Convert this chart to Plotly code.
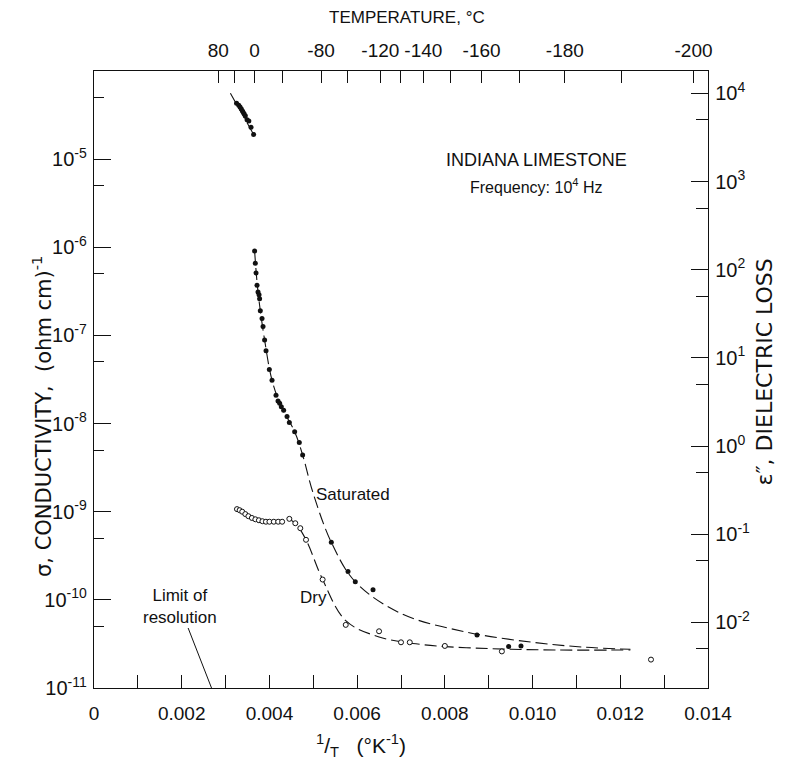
import plotly.graph_objects as go
import math

# ---------------- data ----------------
# Saturated sample, high-temperature cluster (filled dots)
sat_hot_x = [0.00325, 0.00330, 0.00333, 0.00336, 0.00339, 0.00342, 0.00345, 0.00349, 0.00353, 0.00358, 0.00364]
sat_hot_y = [4.3e-5, 4.1e-5, 3.9e-5, 3.7e-5, 3.5e-5, 3.3e-5, 3.1e-5, 2.8e-5, 2.7e-5, 2.3e-5, 1.9e-5]
sat_hot_line_x = [0.00311, 0.00364]
sat_hot_line_y = [5.6e-5, 1.9e-5]

# Saturated sample, frozen branch (filled dots)
sat_x = [0.003662, 0.003678, 0.003694, 0.003717, 0.003740, 0.003763, 0.003776, 0.003792,
         0.003831, 0.003854, 0.003890, 0.003922, 0.003998, 0.004059, 0.004150, 0.004196,
         0.004233, 0.004271, 0.004324, 0.004401, 0.004454, 0.004575, 0.004681, 0.004757,
         0.005411, 0.005792, 0.005958, 0.006362, 0.008733, 0.009454, 0.009736]
sat_y = [9.1e-7, 6.6e-7, 5.1e-7, 3.7e-7, 3.1e-7, 2.9e-7, 2.6e-7, 1.9e-7,
         1.56e-7, 1.26e-7, 8.9e-8, 6.7e-8, 4.1e-8, 3.1e-8, 2.1e-8, 1.8e-8,
         1.7e-8, 1.55e-8, 1.42e-8, 1.2e-8, 1.03e-8, 8.1e-9, 6.1e-9, 4.4e-9,
         4.5e-10, 2.1e-10, 1.6e-10, 1.3e-10, 4.0e-11, 2.95e-11, 3.0e-11]
sat_line_x = [0.003662, 0.003740, 0.003890, 0.004059, 0.004271, 0.004575, 0.004757, 0.0050,
              0.005411, 0.005958, 0.0070, 0.0085, 0.0100, 0.0112, 0.01223]
sat_line_y = [9.1e-7, 3.1e-7, 8.9e-8, 3.1e-8, 1.55e-8, 8.1e-9, 4.4e-9, 1.6e-9,
              4.5e-10, 1.6e-10, 7.0e-11, 4.3e-11, 3.3e-11, 2.9e-11, 2.75e-11]

# Dry sample (open circles)
dry_x = [0.00326, 0.00332, 0.00338, 0.00345, 0.00352, 0.00360, 0.00368, 0.00376,
         0.00384, 0.00392, 0.00400, 0.00410, 0.00420, 0.00429,
         0.004454, 0.004590, 0.004704, 0.004834, 0.005213,
         0.00574, 0.00650, 0.00700, 0.00720, 0.00800, 0.00930, 0.01270]
dry_y = [1.07e-9, 1.04e-9, 1.0e-9, 9.4e-10, 8.9e-10, 8.5e-10, 8.2e-10, 8.0e-10,
         7.8e-10, 7.7e-10, 7.7e-10, 7.7e-10, 7.7e-10, 7.7e-10,
         8.3e-10, 7.4e-10, 6.5e-10, 4.8e-10, 1.7e-10,
         5.2e-11, 4.4e-11, 3.3e-11, 3.3e-11, 3.0e-11, 2.6e-11, 2.1e-11]
dry_line_x = [0.00440, 0.004590, 0.004834, 0.005213, 0.00574, 0.0065, 0.0075, 0.0090, 0.0105, 0.01223]
dry_line_y = [8.5e-10, 7.4e-10, 4.8e-10, 1.7e-10, 5.8e-11, 3.8e-11, 3.1e-11, 2.8e-11, 2.7e-11, 2.7e-11]

# Axis ticks
x_major = [0.000, 0.002, 0.004, 0.006, 0.008, 0.010, 0.012, 0.014]
x_minor = [0.001, 0.003, 0.005, 0.007, 0.009, 0.011, 0.013]
temp_ticks_c = [80, 40, 0, -40, -80, -100, -120, -130, -140, -150, -160, -170, -180, -190, -200]
temp_labels_c = [80, 0, -80, -120, -140, -160, -180, -200]
sigma_exp = [-11, -10, -9, -8, -7, -6, -5]
eps_exp = [-2, -1, 0, 1, 2, 3, 4]

FREQ = 1e4
EPS0 = 8.854e-14  # F/cm
conv = 1.0 / (2 * math.pi * FREQ * EPS0)  # sigma -> eps''

FONT = "Liberation Sans, Arial, sans-serif"
WIDE = "DejaVu Sans, sans-serif"
BLACK = "#111111"

fig = go.Figure()

line_style = dict(color=BLACK, width=1.1, dash="12px,5px")
fig.add_trace(go.Scatter(x=sat_hot_line_x, y=sat_hot_line_y, mode="lines", line=line_style,
                         showlegend=False, hoverinfo="skip"))
fig.add_trace(go.Scatter(x=sat_line_x, y=sat_line_y, mode="lines", line=line_style,
                         line_shape="spline", showlegend=False, hoverinfo="skip"))
fig.add_trace(go.Scatter(x=dry_line_x, y=dry_line_y, mode="lines", line=line_style,
                         line_shape="spline", showlegend=False, hoverinfo="skip"))

fig.add_trace(go.Scatter(x=sat_hot_x + sat_x, y=sat_hot_y + sat_y, mode="markers",
                         marker=dict(size=5, color=BLACK, symbol="circle"),
                         name="Saturated", showlegend=False))
fig.add_trace(go.Scatter(x=dry_x, y=dry_y, mode="markers",
                         marker=dict(size=5, color="white", symbol="circle",
                                     line=dict(color=BLACK, width=1)),
                         name="Dry", showlegend=False))

# invisible traces to activate secondary axes
fig.add_trace(go.Scatter(x=[0.001], y=[1e-8 * conv], yaxis="y2", mode="markers",
                         marker=dict(opacity=0), showlegend=False, hoverinfo="skip"))
fig.add_trace(go.Scatter(x=[0.001], y=[1e-8], xaxis="x2", mode="markers",
                         marker=dict(opacity=0), showlegend=False, hoverinfo="skip"))

def sup(e):
    return "10<sup>%d</sup>" % e

x_vals = sorted(x_major + x_minor)
x_text = [("0" if v == 0 else "%.3f" % v) if any(abs(v - m) < 1e-9 for m in x_major) else "" for v in x_vals]

temp_vals = [1.0 / (t + 273.15) for t in temp_ticks_c]
temp_text = [str(t) if t in temp_labels_c else "" for t in temp_ticks_c]

ymin, ymax = -11, -4
off = math.log10(conv)

common = dict(showline=True, linecolor=BLACK, linewidth=1.4, ticks="inside", tickcolor=BLACK,
              tickwidth=1.2, showgrid=False, zeroline=False)

fig.update_layout(
    width=785, height=768,
    margin=dict(l=94, r=77, t=71, b=80),
    paper_bgcolor="white", plot_bgcolor="white",
    xaxis=dict(range=[0, 0.014], tickmode="array", tickvals=x_vals, ticktext=x_text,
               ticklen=13, ticklabelstandoff=8, tickangle=0,
               tickfont=dict(family=FONT, size=19, color=BLACK), **common),
    xaxis2=dict(range=[0, 0.014], overlaying="x", side="top", tickmode="array",
                tickvals=temp_vals, ticktext=temp_text, ticklen=12, ticklabelstandoff=5,
                tickangle=0,
                tickfont=dict(family=FONT, size=19, color=BLACK), **common),
    yaxis=dict(type="log", range=[ymin, ymax], tickmode="array",
               tickvals=[10.0 ** e for e in sigma_exp], ticktext=[sup(e) for e in sigma_exp],
               ticklen=17, ticklabelstandoff=2,
               tickfont=dict(family=FONT, size=20, color=BLACK),
               minor=dict(tickvals=[5 * 10.0 ** e for e in range(-11, -4)], ticklen=10,
                          ticks="inside", tickcolor=BLACK, tickwidth=1.2),
               **common),
    yaxis2=dict(type="log", range=[ymin + off, ymax + off], overlaying="y", side="right",
                tickmode="array", tickvals=[10.0 ** e for e in eps_exp],
                ticktext=[sup(e) for e in eps_exp], ticklen=17, ticklabelstandoff=2,
                tickfont=dict(family=FONT, size=20, color=BLACK),
                minor=dict(tickvals=[5 * 10.0 ** e for e in range(-3, 4)], ticklen=12,
                           ticks="inside", tickcolor=BLACK, tickwidth=1.2),
                **common),
)

H0, H1 = 71, 688  # plot area top / bottom in pixels (for paper placement of labels)
def py(pix):
    return (H1 - pix) / (H1 - H0)

ann_font = dict(color=BLACK)
fig.add_annotation(text="TEMPERATURE, °C", xref="paper", yref="paper", x=0.51, xanchor="center",
                   y=py(18), yanchor="middle", showarrow=False,
                   font=dict(family=FONT, size=17, **ann_font))
fig.add_annotation(text="<sup>1</sup>/<sub>T</sub>   (°K<sup>-1</sup>)", xref="paper", yref="paper",
                   x=0.435, xanchor="center", y=py(745), yanchor="middle", showarrow=False,
                   font=dict(family=FONT, size=21, **ann_font))
fig.add_annotation(text="σ, CONDUCTIVITY,  (ohm cm)<sup>-1</sup>", xref="paper", yref="paper",
                   x=0, xshift=-68, y=py(417), yanchor="middle", textangle=-90, showarrow=False,
                   font=dict(family=WIDE, size=21, **ann_font))
fig.add_annotation(text="ε″, DIELECTRIC LOSS", xref="paper", yref="paper",
                   x=1, xshift=70, y=py(372), yanchor="middle", textangle=-90, showarrow=False,
                   font=dict(family=WIDE, size=22, **ann_font))
fig.add_annotation(text="INDIANA LIMESTONE", xref="paper", yref="paper", x=0.72, xanchor="center",
                   y=py(160), yanchor="middle", showarrow=False,
                   font=dict(family=FONT, size=18, **ann_font))
fig.add_annotation(text="Frequency: 10<sup>4</sup> Hz", xref="paper", yref="paper", x=0.72,
                   xanchor="center", y=py(186), yanchor="middle", showarrow=False,
                   font=dict(family=FONT, size=16, **ann_font))
fig.add_annotation(text="Saturated", x=0.0059, y=-8.8, xref="x", yref="y",
                   showarrow=False, font=dict(family=FONT, size=17, **ann_font))
fig.add_annotation(text="Dry", x=0.0050, y=-9.97, xref="x", yref="y",
                   showarrow=False, font=dict(family=FONT, size=17, **ann_font))
fig.add_annotation(text="Limit of<br>resolution", x=0.00268, y=-11, xref="x", yref="y",
                   ax=-32, ay=-82, showarrow=True, arrowhead=0, arrowwidth=1, arrowcolor=BLACK,
                   font=dict(family=FONT, size=17, **ann_font))

fig.write_html("out.html")
